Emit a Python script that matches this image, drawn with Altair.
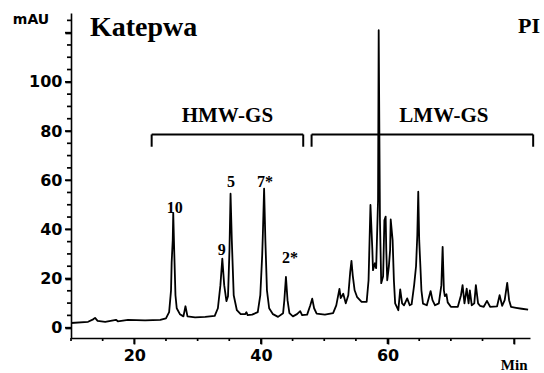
import altair as alt
import pandas as pd

# Reversed-phase HPLC trace of glutenin subunits (time in min, absorbance in mAU)
TIME = [10.0, 12.7, 13.5, 13.8, 14.2, 15.4, 17.1, 17.4, 19.0, 21.7, 24.1, 25.0, 25.5, 25.8,
        25.9, 26.07, 26.15, 26.3, 26.5, 26.7, 27.2, 27.76, 28.08, 28.4, 29.6, 31.2, 32.7, 33.2,
        33.6, 33.9, 34.2, 34.55, 34.8, 35.03, 35.2, 35.4, 35.7, 36.2, 36.8, 37.5, 37.7, 37.9,
        38.6, 39.5, 39.9, 40.2, 40.3, 40.5, 40.7, 40.95, 41.3, 41.9, 42.7, 43.5, 43.7, 43.95,
        44.2, 44.5, 45.05, 45.7, 46.2, 46.5, 47.3, 47.8, 48.1, 48.4, 48.8, 50.1, 51.4, 51.9,
        52.4, 52.6, 53.0, 53.4, 53.8, 54.1, 54.3, 54.5, 54.8, 55.2, 55.9, 56.7, 57.0, 57.3,
        57.6, 57.7, 58.0, 58.2, 58.5, 58.6, 58.8, 59.0, 59.3, 59.5, 59.7, 59.8, 59.95, 60.2,
        60.4, 60.5, 60.8, 61.0, 61.2, 61.7, 62.0, 62.3, 62.6, 63.1, 63.5, 63.8, 64.2, 64.5,
        64.7, 64.85, 65.0, 65.2, 65.35, 65.6, 66.2, 66.5, 66.8, 67.1, 67.5, 68.1, 68.5, 68.7,
        68.9, 69.05, 69.3, 69.5, 70.0, 71.1, 71.6, 71.85, 72.15, 72.5, 72.8, 73.0, 73.3, 73.7,
        73.95, 74.3, 74.6, 75.2, 75.7, 76.2, 77.3, 77.7, 78.1, 78.5, 78.9, 79.2, 79.5, 80.3,
        81.2, 82.2]
MAU = [1.9, 2.4, 3.4, 4.0, 2.8, 2.4, 3.2, 2.6, 3.2, 3.0, 3.2, 3.8, 6.3, 15.2,
       26.6, 35.6, 46.6, 31.5, 13.2, 7.9, 5.5, 4.6, 8.7, 4.6, 4.2, 4.4, 4.8, 7.9,
       17.3, 28.1, 17.3, 10.8, 12.8, 31.5, 54.5, 35.6, 13.2, 7.1, 5.5, 5.5, 6.3, 5.1,
       5.3, 6.3, 13.2, 29.5, 37.6, 56.6, 35.6, 15.2, 7.9, 5.5, 4.4, 5.9, 11.2, 20.7,
       11.2, 5.9, 4.6, 5.5, 6.7, 5.1, 5.3, 9.1, 11.8, 7.9, 5.7, 5.3, 5.9, 9.1,
       15.8, 12.0, 13.8, 9.9, 13.2, 22.6, 27.2, 21.3, 15.2, 12.4, 10.5, 10.5, 19.3, 49.9,
       31.5, 23.4, 26.2, 24.2, 51.9, 121.0, 43.7, 18.1, 20.9, 43.7, 45.2, 31.5, 19.3, 24.7,
       31.5, 44.0, 35.6, 19.3, 9.9, 7.1, 15.6, 9.9, 9.1, 11.9, 9.1, 9.5, 17.3, 25.0,
       37.6, 55.3, 35.6, 24.2, 15.2, 9.8, 9.1, 12.0, 14.9, 11.2, 9.1, 9.9, 17.3, 32.9,
       15.2, 12.8, 13.6, 10.3, 8.5, 8.5, 13.2, 17.3, 9.9, 15.9, 9.9, 15.2, 9.1, 9.9,
       17.3, 9.9, 8.9, 8.5, 10.9, 8.5, 8.7, 13.2, 8.9, 11.2, 18.2, 11.2, 8.5, 8.1,
       7.7, 7.3]

# Subunit labels above the peaks
PEAK_NAMES = ["10", "9", "5", "7*", "2*"]
PEAK_LABEL_T = [26.37, 33.8, 35.26, 40.63, 44.58]
PEAK_LABEL_MAU = [48.6, 31.5, 59.4, 59.2, 28.3]

# Subunit groups marked by brackets
GROUP_NAMES = ["HMW-GS", "LMW-GS"]
GROUP_START = [22.74, 48.0]
GROUP_END = [46.68, 83.0]
GROUP_LABEL_T = [34.7, 68.9]
BRACKET_LEVEL = 78.6
BRACKET_DROP = 5.0

# Axis ticks: labelled every 20, unlabelled minor ticks every 5
X_MAJOR = [20, 40, 60, 80]
X_MINOR = [10, 15, 25, 30, 35, 45, 50, 55, 65, 70, 75]
Y_MAJOR = [0, 20, 40, 60, 80, 100, 120]
Y_MINOR = [5, 10, 15, 25, 30, 35, 45, 50, 55, 65, 70, 75, 85, 90, 95, 105, 110, 115, 125]

X_DOMAIN = [10, 82.5]
Y_DOMAIN = [-4.2, 128]

trace = pd.DataFrame({"t": TIME, "mau": MAU})
peaks = pd.DataFrame({"name": PEAK_NAMES, "t": PEAK_LABEL_T, "mau": PEAK_LABEL_MAU})
groups = pd.DataFrame({
    "name": GROUP_NAMES,
    "start": GROUP_START,
    "end": GROUP_END,
    "label_t": GROUP_LABEL_T,
    "level": [BRACKET_LEVEL] * 2,
    "low": [BRACKET_LEVEL - BRACKET_DROP] * 2,
})

W, H = 459, 325
SANS = "DejaVu Sans"
SERIF = "Liberation Serif"
MAJOR_LEN, MINOR_LEN_X, MINOR_LEN_Y = 6, 3, 4

xscale = alt.Scale(domain=X_DOMAIN, nice=False, zero=False)
yscale = alt.Scale(domain=Y_DOMAIN, nice=False, zero=False)

# the axes carry the long ticks and the numbers
x_axis = alt.Axis(
    values=X_MAJOR, title=None, grid=False,
    ticks=True, tickSize=MAJOR_LEN, tickWidth=1.7, tickColor="black",
    labelExpr="datum.value < 80 ? datum.label : ''",
    labelPadding=3,
)
y_axis = alt.Axis(
    values=Y_MAJOR, title=None, grid=False,
    ticks=True, tickSize=MAJOR_LEN, tickWidth=1.7, tickColor="black",
    labelExpr="datum.value <= 100 ? datum.label : ''",
    labelPadding=3,
)

line = alt.Chart(trace).mark_line(color="black", strokeWidth=1.8, strokeJoin="round").encode(
    x=alt.X("t:Q", scale=xscale, axis=x_axis),
    y=alt.Y("mau:Q", scale=yscale, axis=y_axis),
    order="t:Q",
)


def x_ticks(values, length):
    frame = pd.DataFrame({"t": values})
    return alt.Chart(frame).mark_rule(color="black", strokeWidth=1.7, clip=False).encode(
        x=alt.X("t:Q", scale=xscale), y=alt.value(H), y2=alt.value(H + length),
    )


def y_ticks(values, length):
    frame = pd.DataFrame({"mau": values})
    return alt.Chart(frame).mark_rule(color="black", strokeWidth=1.7, clip=False).encode(
        y=alt.Y("mau:Q", scale=yscale), x=alt.value(-length), x2=alt.value(0),
    )


peak_text = alt.Chart(peaks).mark_text(
    font=SERIF, fontWeight="bold", fontSize=16, color="black",
    align="center", baseline="middle",
).encode(x=alt.X("t:Q", scale=xscale), y=alt.Y("mau:Q", scale=yscale), text="name:N")

bracket_h = alt.Chart(groups).mark_rule(color="black", strokeWidth=2, clip=False).encode(
    x=alt.X("start:Q", scale=xscale), x2="end:Q", y=alt.Y("level:Q", scale=yscale),
)
bracket_l = alt.Chart(groups).mark_rule(color="black", strokeWidth=2, clip=False).encode(
    x=alt.X("start:Q", scale=xscale), y=alt.Y("level:Q", scale=yscale), y2="low:Q",
)
bracket_r = alt.Chart(groups).mark_rule(color="black", strokeWidth=2, clip=False).encode(
    x=alt.X("end:Q", scale=xscale), y=alt.Y("level:Q", scale=yscale), y2="low:Q",
)
group_text = alt.Chart(groups).mark_text(
    font=SERIF, fontWeight="bold", fontSize=21, color="black",
    align="center", baseline="alphabetic", dy=-12,
).encode(x=alt.X("label_t:Q", scale=xscale), y=alt.Y("level:Q", scale=yscale), text="name:N")

notes = pd.DataFrame({"t": [80.0], "label": ["Min"]})
min_text = alt.Chart(notes).mark_text(
    font=SERIF, fontWeight="bold", fontSize=15, color="black",
    align="center", baseline="alphabetic", clip=False,
).encode(x=alt.X("t:Q", scale=xscale), y=alt.value(H + 32), text="label:N")

unit_text = alt.Chart(notes).mark_text(
    font=SANS, fontWeight="bold", fontSize=14, color="black",
    align="center", baseline="alphabetic",
).encode(x=alt.value(-40), y=alt.value(11), text=alt.value("mAU"))

title_text = alt.Chart(notes).mark_text(
    font=SERIF, fontWeight="bold", fontSize=28, color="black",
    align="left", baseline="alphabetic",
).encode(x=alt.value(19), y=alt.value(23), text=alt.value("Katepwa"))

corner_text = alt.Chart(notes).mark_text(
    font=SERIF, fontWeight="bold", fontSize=22, color="black",
    align="left", baseline="alphabetic",
).encode(x=alt.value(447), y=alt.value(20), text=alt.value("PI"))

chart = alt.layer(
    line,
    x_ticks(X_MAJOR, MAJOR_LEN), x_ticks(X_MINOR, MINOR_LEN_X),
    y_ticks(Y_MAJOR, MAJOR_LEN), y_ticks(Y_MINOR, MINOR_LEN_Y),
    peak_text, bracket_h, bracket_l, bracket_r,
    group_text, min_text, unit_text, title_text, corner_text,
).properties(
    width=W, height=H,
    autosize=alt.AutoSizeParams(type="none"),
    padding={"left": 71, "top": 13, "right": 14, "bottom": 35},
    background="white",
).configure_view(strokeWidth=0).configure_axis(
    domainColor="black", domainWidth=1.6,
    labelFont=SANS, labelFontWeight="bold", labelFontSize=16, labelColor="black",
)

chart.save("out.html", embed_options={"renderer": "svg", "actions": False})
